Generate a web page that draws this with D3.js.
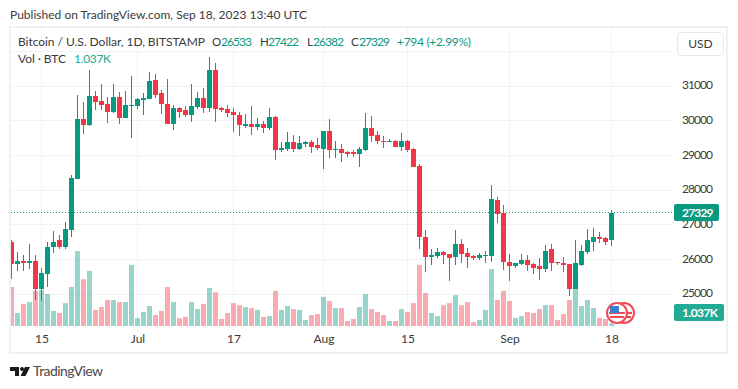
<!DOCTYPE html>
<html>
<head>
<meta charset="utf-8">
<script src="https://cdn.jsdelivr.net/npm/d3@7"></script>
<style>
html, body { margin: 0; padding: 0; background: #fff; }
svg { display: block; }
text { font-family: Lato, "Noto Sans", sans-serif; }
</style>
</head>
<body>
<div id="chart"></div>
<script>
// daily bars, 10 Jun to 18 Sep 2023
var opens = [26500,25840,25950,25890,25950,25120,25550,26330,26530,26330,26820,28290,30020,29850,30710,30540,30480,30250,30680,30050,30420,30420,30570,30600,31170,30770,30480,29880,30340,30280,30140,30390,30630,30340,31460,30340,30310,30250,30140,29820,29900,29790,29900,29760,30080,29150,29180,29360,29180,29300,29360,29270,29180,29700,29130,29180,29070,29070,29010,29150,29760,29560,29410,29360,29410,29240,29410,29180,28690,26640,26040,26070,26210,26130,26040,26440,26180,26070,26010,26070,26070,27710,27310,25920,25780,25840,25980,25840,25780,25720,26270,25920,25890,25840,25140,25810,26210,26500,26620,26590,26533];
var highs = [26530,26210,26100,26440,26100,25750,26500,26790,26700,27050,28430,30740,30510,31460,30830,31030,30680,31030,30800,30830,31260,30650,30770,31380,31320,30860,31200,30450,30370,30420,31030,30800,30940,31810,31640,30390,30450,30340,30250,30190,30420,30050,29990,30340,30110,29360,29670,29560,29530,29410,29440,29500,29700,30020,29390,29300,29100,29150,29240,30220,30110,29700,29530,29470,29440,29640,29440,29210,28750,26820,26270,26300,26240,26150,26820,26560,26300,26100,26180,26240,28140,27770,27540,26150,25890,26130,26100,25870,26010,26410,26440,25920,26040,25840,26530,26410,26850,26880,26760,26620,27422];
var lows = [25430,25660,25640,25720,24800,24770,25200,26180,26270,26270,26640,28290,29590,29820,30280,30280,29930,30220,29880,30050,29500,30310,30160,30600,30630,30190,29880,29730,30050,30080,29960,30310,30220,30250,29960,30250,30080,29670,29530,29760,29560,29730,29640,29730,28840,29070,29100,29070,29130,29240,29040,29130,28580,28920,28920,28780,28950,28950,28660,29100,29360,29300,29210,29360,29240,29100,29070,28660,26270,25610,25810,26010,25840,25350,25810,25870,25750,25980,25980,25870,25920,27020,25690,25350,25750,25810,25660,25550,25400,25610,25660,25810,25610,24940,25120,25780,26150,26240,26470,26410,26382];
var closes = [25840,25950,25890,25950,25120,25580,26330,26500,26330,26850,28320,30020,29850,30710,30510,30450,30250,30680,30050,30450,30450,30600,30630,31140,30740,30480,29880,30340,30250,30140,30420,30630,30340,31460,30310,30280,30220,30140,29850,29900,29790,29900,29760,30080,29150,29210,29360,29180,29330,29360,29240,29210,29700,29130,29180,29040,29010,29010,29180,29760,29530,29390,29360,29410,29240,29410,29150,28660,26620,26040,26100,26210,26100,26010,26440,26150,26040,26010,26100,26100,27740,27280,25920,25780,25870,25980,25810,25750,25720,26240,25890,25870,25810,25140,25870,26240,26530,26620,26560,26500,27329];
// volume in thousand BTC
var volumes = [15,5,8.5,9.2,13.5,13.8,12.3,5.8,5,8.8,15,28.8,18,21.2,6.2,7.3,10,10,9.2,9.2,23.5,3,5.4,7.7,4.2,5.8,15,9.2,3,3.5,9.2,6.5,8.5,14.6,13,2.7,5,8.8,8,7.3,6.9,6.2,3.5,3.8,13.5,6.2,7.7,6.5,6.2,2.3,4.2,4.6,11.2,9.6,6.9,6.9,1.9,2.7,7.3,12.3,6.5,5.4,4.2,1.9,1.9,6.5,5.4,8.8,23.5,12.7,5,3.8,8,8.8,11.9,8,9.2,1.5,2.3,6.2,21.9,10,13.5,9.6,3.1,3.8,5.4,5,6.5,8,8,2.3,4.6,10,14.6,7.7,10,6.9,3.1,2.7,1.037];
var firstDay = new Date(Date.UTC(2023, 5, 10));
var lastDay = new Date(Date.UTC(2023, 8, 18));
var days = d3.utcDay.range(firstDay, d3.utcDay.offset(lastDay, 1));
var dateTicks = [new Date(Date.UTC(2023, 5, 15)), new Date(Date.UTC(2023, 6, 1)), new Date(Date.UTC(2023, 6, 17)), new Date(Date.UTC(2023, 7, 1)), new Date(Date.UTC(2023, 7, 15)), new Date(Date.UTC(2023, 8, 1)), new Date(Date.UTC(2023, 8, 18))];
var dateLabels = ["15", "Jul", "17", "Aug", "15", "Sep", "18"];
var priceTicks = [25000, 26000, 27000, 28000, 29000, 30000, 31000];
var lastClose = closes[closes.length - 1];
var lastVolume = "1.037K";

var green = "#089981", red = "#f23645";
var textColor = "#3a3a3a";
var width = 738, height = 389;
var svg = d3.select("#chart").append("svg").attr("width", width).attr("height", height);

var x = d3.scaleUtc().domain([firstDay, lastDay]).range([11.5, 611.5]);
var y = d3.scaleLinear().domain([25000, 31000]).range([293.5, 85.5]);
var v = d3.scaleLinear().domain([0, 10]).range([326, 300]);

function px(d) { return Math.round(y(d)); }

// text squeezed to the width it has in the picture
function label(lx, ly, str, color, len, size) {
    return svg.append("text").attr("x", lx).attr("y", ly)
        .attr("font-size", size || 12).attr("fill", color)
        .attr("textLength", len).text(str);
}

// frame
svg.append("rect").attr("x", 10).attr("y", 27).attr("width", 717).attr("height", 326)
    .attr("fill", "none").attr("stroke", "#f0f1f4").attr("stroke-width", 2);

svg.append("defs").append("clipPath").attr("id", "plot").append("rect")
    .attr("x", 11).attr("y", 28).attr("width", 662).attr("height", 302);

// grid
var grid = svg.append("g").attr("stroke", "#f2f3f6");
grid.selectAll("line.h").data(priceTicks.concat([32000])).enter().append("line")
    .attr("x1", 11).attr("x2", 672)
    .attr("y1", function (d) { return px(d) + 0.5; })
    .attr("y2", function (d) { return px(d) + 0.5; });
grid.selectAll("line.v").data(dateTicks).enter().append("line")
    .attr("x1", function (d) { return x(d); }).attr("x2", function (d) { return x(d); })
    .attr("y1", 28).attr("y2", 330);

var plot = svg.append("g").attr("clip-path", "url(#plot)");

// volume
plot.selectAll("rect.vol").data(days).enter().append("rect")
    .attr("x", function (d) { return x(d) - 2.5; })
    .attr("width", 5)
    .attr("y", function (d, i) { return v(volumes[i]); })
    .attr("height", function (d, i) { return 326 - v(volumes[i]); })
    .attr("fill", function (d, i) { return closes[i] >= opens[i] ? green : red; })
    .attr("fill-opacity", 0.42);

// last price line
plot.append("line").attr("x1", 11).attr("x2", 673)
    .attr("y1", px(lastClose) - 0.5).attr("y2", px(lastClose) - 0.5)
    .attr("stroke", green).attr("stroke-dasharray", "1 2");

// candles
var candle = plot.selectAll("g.candle").data(days).enter().append("g")
    .attr("fill", function (d, i) { return closes[i] >= opens[i] ? green : red; });
candle.append("rect")
    .attr("x", function (d) { return x(d) - 0.5; })
    .attr("width", 1)
    .attr("y", function (d, i) { return px(highs[i]); })
    .attr("height", function (d, i) { return px(lows[i]) - px(highs[i]); });
candle.append("rect")
    .attr("x", function (d) { return x(d) - 2.5; })
    .attr("width", 5)
    .attr("y", function (d, i) { return px(Math.max(opens[i], closes[i])); })
    .attr("height", function (d, i) { return Math.max(1, Math.abs(px(opens[i]) - px(closes[i]))); });

// axes
var priceAxis = svg.append("g").attr("transform", "translate(682,-0.5)")
    .call(d3.axisRight(y).tickValues(priceTicks).tickFormat(d3.format("d")).tickSize(0).tickPadding(0));
priceAxis.select(".domain").remove();
priceAxis.selectAll("text").attr("font-size", 12).attr("fill", textColor).attr("textLength", 31);

var dateAxis = svg.append("g").attr("transform", "translate(0,331)")
    .call(d3.axisBottom(x).tickValues(dateTicks).tickFormat(function (d, i) { return dateLabels[i]; }).tickSize(0).tickPadding(3));
dateAxis.select(".domain").remove();
dateAxis.selectAll("text").attr("font-size", 12).attr("fill", textColor);

// flags, sit under the price labels
function flag(cx, cy) {
    var g = svg.append("g");
    g.append("circle").attr("cx", cx).attr("cy", cy).attr("r", 10)
        .attr("fill", "#fff").attr("stroke", "#ef4a57").attr("stroke-width", 2);
    g.append("rect").attr("x", cx - 8).attr("y", cy - 1).attr("width", 16).attr("height", 2).attr("fill", "#ef4a57");
    g.append("rect").attr("x", cx - 7).attr("y", cy + 3).attr("width", 14).attr("height", 2).attr("fill", "#ef4a57");
    return g;
}
flag(624, 313);
flag(617, 313).append("rect").attr("x", 610).attr("y", 306).attr("width", 9).attr("height", 7).attr("fill", "#3f7fd0");

// price labels
function badge(by, w, str, fill, len) {
    svg.append("rect").attr("x", 674).attr("y", by).attr("width", w).attr("height", 17).attr("rx", 2).attr("fill", fill);
    label(682, by + 13, str, "#fff", len).attr("font-weight", 700);
}
badge(204, 45, d3.format("d")(lastClose), green, 31.5);
badge(304, 50, lastVolume, "#22ab94", 36);

// USD button
svg.append("rect").attr("x", 677.5).attr("y", 32.5).attr("width", 46).attr("height", 23).attr("rx", 4)
    .attr("fill", "#fff").attr("stroke", "#e6e8ee");
svg.append("text").attr("x", 700.5).attr("y", 48).attr("text-anchor", "middle")
    .attr("font-size", 12).attr("fill", textColor).text("USD");

// header
label(10, 19, "Published on TradingView.com, Sep 18, 2023 13:40 UTC", textColor, 297);
label(18, 46, "Bitcoin / U.S. Dollar, 1D, BITSTAMP", textColor, 187);
[["O", 212, "26533", 221], ["H", 260, "27422", 268], ["L", 307, "26382", 313], ["C", 351, "27329", 359]].forEach(function (p) {
    label(p[1], 46, p[0], textColor, null, 11.5);
    label(p[3], 46, p[2], green, 31);
});
label(397, 46, "+794 (+2.99%)", green, 74);
label(18, 63, "Vol · BTC", textColor, 48);
label(74, 63, lastVolume, "#22ab94", 37);

// logo
svg.append("path").attr("fill", "#1a1a1a")
    .attr("d", "M10 367h9v9h-4v-5h-5z M22 367a2 2 0 1 0 0.01 0z M25 367h5l-4.5 9h-5z");
label(33, 376, "TradingView", "#4a4a4a", 70, 14);
</script>
</body>
</html>
